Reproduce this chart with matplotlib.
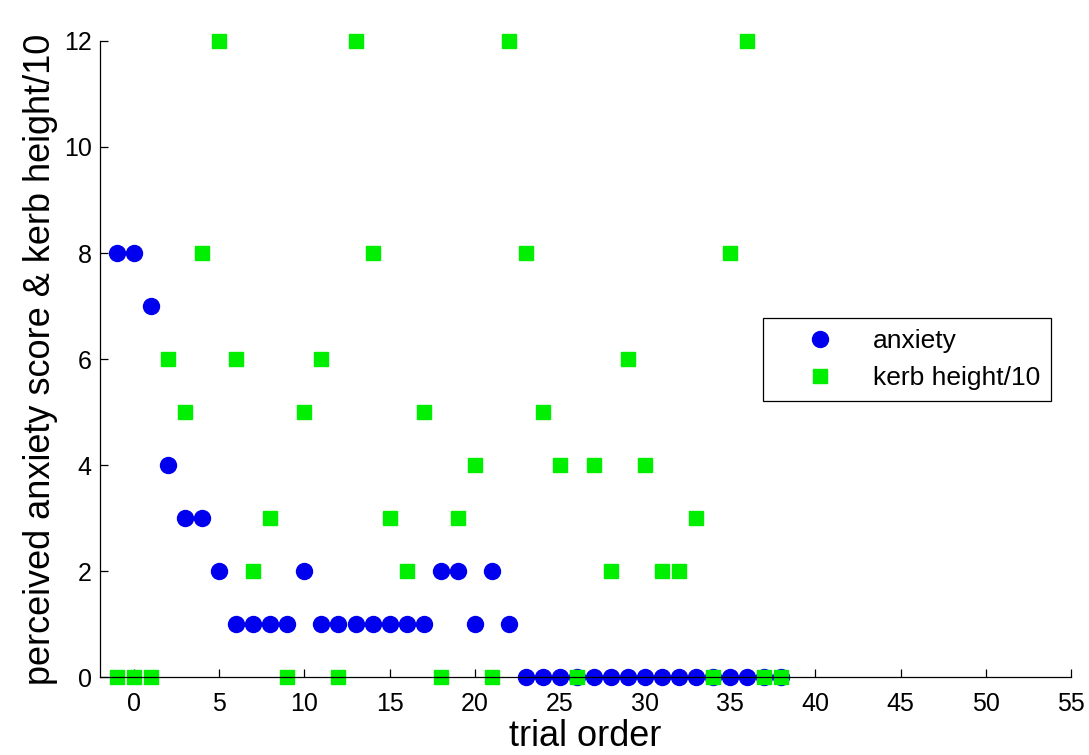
import matplotlib
matplotlib.use("Agg")
import matplotlib.pyplot as plt

plt.rcParams['font.family'] = ['Liberation Sans', 'DejaVu Sans']

# trial order (x) and values
trial = [-1, 0, 1, 2, 3, 4, 5, 6, 7, 8, 9, 10, 11, 12, 13, 14, 15, 16, 17, 18,
         19, 20, 21, 22, 23, 24, 25, 26, 27, 28, 29, 30, 31, 32, 33, 34, 35, 36, 37, 38]
anxiety = [8, 8, 7, 4, 3, 3, 2, 1, 1, 1, 1, 2, 1, 1, 1, 1, 1, 1, 1, 2,
           2, 1, 2, 1, 0, 0, 0, 0, 0, 0, 0, 0, 0, 0, 0, 0, 0, 0, 0, 0]
kerb = [0, 0, 0, 6, 5, 8, 12, 6, 2, 3, 0, 5, 6, 0, 12, 8, 3, 2, 5, 0,
        3, 4, 0, 12, 8, 5, 4, 0, 4, 2, 6, 4, 2, 2, 3, 0, 8, 12, 0, 0]
xticks = [0, 5, 10, 15, 20, 25, 30, 35, 40, 45, 50, 55]
yticks = [0, 2, 4, 6, 8, 10, 12]

fig = plt.figure(figsize=(10.89, 7.55), dpi=100)
ax = fig.add_axes([0.0918, 0.1033, 0.8917, 0.8424])

ax.plot(trial, anxiety, 'o', color='#0000ee', markersize=11.5, linestyle='none',
        label='anxiety', clip_on=False)
ax.plot(trial, kerb, 's', color='#00ee00', markersize=10, linestyle='none',
        label='kerb height/10', clip_on=False)

ax.set_xlim(-2, 55)
ax.set_ylim(0, 12)
ax.set_xticks(xticks)
ax.set_yticks(yticks)

ax.spines['top'].set_visible(False)
ax.spines['right'].set_visible(False)
for s in ('left', 'bottom'):
    ax.spines[s].set_linewidth(0.9)
ax.tick_params(direction='in', length=6, width=0.9, labelsize=18)
ax.tick_params(axis='x', pad=11)
ax.tick_params(axis='y', pad=6)

ax.set_xlabel('trial order', fontsize=26, labelpad=2)
ax.set_ylabel('perceived anxiety score & kerb height/10', fontsize=26, labelpad=4)

leg = ax.legend(loc='upper left', bbox_to_anchor=(0.683, 0.564), fontsize=19,
                fancybox=False, framealpha=1, edgecolor='black',
                borderpad=0.4, handletextpad=0.25, handlelength=3.5,
                borderaxespad=0, labelspacing=0.5)
leg.get_frame().set_linewidth(0.9)

fig.savefig('out.png', dpi=100)
